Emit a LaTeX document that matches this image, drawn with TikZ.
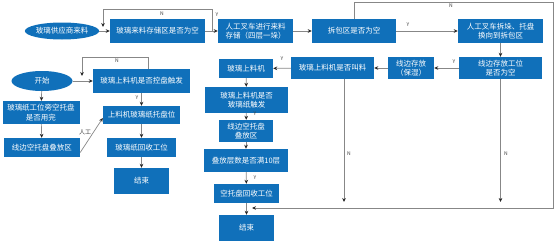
\documentclass[tikz,border=0pt]{standalone}
\usepackage{fontspec}
\usetikzlibrary{arrows.meta,shapes.geometric}
\newfontfamily\cjk{Noto Sans CJK SC}
\definecolor{flowB}{RGB}{16,112,186}
\definecolor{flowL}{RGB}{135,135,135}

\begin{document}
\begin{tikzpicture}[x=1pt,y=-1pt,>={Stealth[length=4pt,width=3.6pt,color=black!85]},
  box/.style={fill=flowB,text=white,font=\cjk\fontsize{7.5}{9.5}\selectfont,align=center,inner sep=0pt},
  oval/.style={ellipse,fill=flowB,text=white,font=\cjk\fontsize{7.5}{9.5}\selectfont,inner sep=0pt},
  link/.style={draw=flowL,line width=0.7pt},
  tag/.style={font=\cjk\fontsize{5}{5}\selectfont,text=black!75,inner sep=0pt}]
\useasboundingbox (0,0) rectangle (555,241);
% top row: incoming glass
\node[oval,minimum width=61,minimum height=17] (sup) at (62,31) {玻璃供应商来料};
\node[box,minimum width=95,minimum height=24] (store) at (157.5,31) {玻璃来料存储区是否为空};
\node[box,minimum width=75,minimum height=24] (fork1) at (255.5,31) {人工叉车进行来料\\存储（四层一垛）};
\node[box,minimum width=84,minimum height=24] (unpack) at (354,31) {拆包区是否为空};
\node[box,minimum width=85,minimum height=24] (fork2) at (500.5,31) {人工叉车拆垛、托盘\\换向到拆包区};
% second row, right to left
\node[box,minimum width=83,minimum height=22] (side) at (500.5,68) {线边存放工位\\是否为空};
\node[box,minimum width=46,minimum height=22] (keep) at (411,68) {线边存放\\（保湿）};
\node[box,minimum width=83,minimum height=22] (call) at (332.5,68) {玻璃上料机是否叫料};
% middle column
\node[box,minimum width=54,minimum height=19] (feeder) at (246,68.5) {玻璃上料机};
\node[box,minimum width=83,minimum height=26] (paper) at (246.5,100) {玻璃上料机是否\\玻璃纸触发};
\node[box,minimum width=54,minimum height=22] (stack) at (246,131) {线边空托盘\\叠放区};
\node[box,minimum width=84,minimum height=23] (full) at (246,160.5) {叠放层数是否满10层};
\node[box,minimum width=65,minimum height=19] (back) at (246.5,193.5) {空托盘回收工位};
\node[box,minimum width=55,minimum height=26] (endB) at (246.5,228) {结束};
% left part
\node[oval,minimum width=61,minimum height=20] (start) at (42,81) {开始};
\node[box,minimum width=97,minimum height=24] (trig) at (141.5,81) {玻璃上料机是否控盘触发};
\node[box,minimum width=77,minimum height=18] (tray) at (141.5,115) {上料机玻璃纸托盘位};
\node[box,minimum width=69,minimum height=19] (recyc) at (141.5,147.5) {玻璃纸回收工位};
\node[box,minimum width=55,minimum height=26] (endA) at (141.5,181) {结束};
\node[box,minimum width=77,minimum height=23] (used) at (41,112.5) {玻璃纸工位旁空托盘\\是否用完};
\node[box,minimum width=76,minimum height=19] (pile) at (42,147.5) {线边空托盘叠放区};
% loop and drop points
\coordinate (jA) at (212,31); \coordinate (topA) at (103,9); \coordinate (dropA) at (103,27);
\coordinate (topB) at (553,2); \coordinate (retB) at (252,208);
\coordinate (dropC) at (344,202); \coordinate (dropD) at (500.5,202);
\coordinate (topE) at (82,57); \coordinate (dropE) at (82,76);
% connectors, top and right
\draw[link,->] (sup) -- (store);
\draw[link,->] (store) -- (fork1);
\draw[link,->] (jA) |- (topA) -- (dropA);
\draw[link,->] (fork1) -- (unpack);
\draw[link,->] (unpack) -- (fork2);
\draw[link,->] (unpack.north) |- (topB) |- (retB);
\draw[link,->] (fork2) -- (side);
\draw[link,->] (side) -- (keep);
\draw[link,->] (keep) -- (call);
\draw[link,->] (call) -- (feeder);
\draw[link,->] (call.south -| dropC) -- (dropC);
\draw[link,->] (side.south) -- (dropD);
\draw[link,->] (feeder) -- (paper);
\draw[link,->] (paper) -- (stack);
\draw[link,->] (stack) -- (full);
\draw[link,->] (full) -- (back);
\draw[link,->] (back) -- (endB);
% connectors, left
\draw[link,->] (start) -- (trig);
\draw[link,->] ([xshift=6.5pt]trig.north) |- (topE) -- (dropE);
\draw[link,->] (trig) -- (tray);
\draw[link,->] (tray) -- (recyc);
\draw[link,->] (recyc) -- (endA);
\draw[link,->] (start) -- (used);
\draw[link,->] (used) -- (pile);
\draw[link,->] ([yshift=-5pt]pile.east) -- ([yshift=-3pt]tray.west);
% branch labels
\node[tag] (nA) at (162,14) {N};
\node[tag] (yA) at (217,15) {Y};
\node[tag] (nB) at (451,6) {N};
\node[tag] (yB) at (408,25) {Y};
\node[tag] (yC) at (454,62) {Y};
\node[tag] (yD) at (282,59) {Y};
\node[tag] (nC) at (349,154) {N};
\node[tag] (nD) at (506,154) {N};
\node[tag] (yE) at (255,114) {Y};
\node[tag] (yF) at (255,178) {Y};
\node[tag] (nE) at (117,61) {N};
\node[tag] (yG) at (137,98) {Y};
\node[tag,font=\cjk\fontsize{6}{6}\selectfont] (hand) at (85,132) {人工};
\end{tikzpicture}
\end{document}
